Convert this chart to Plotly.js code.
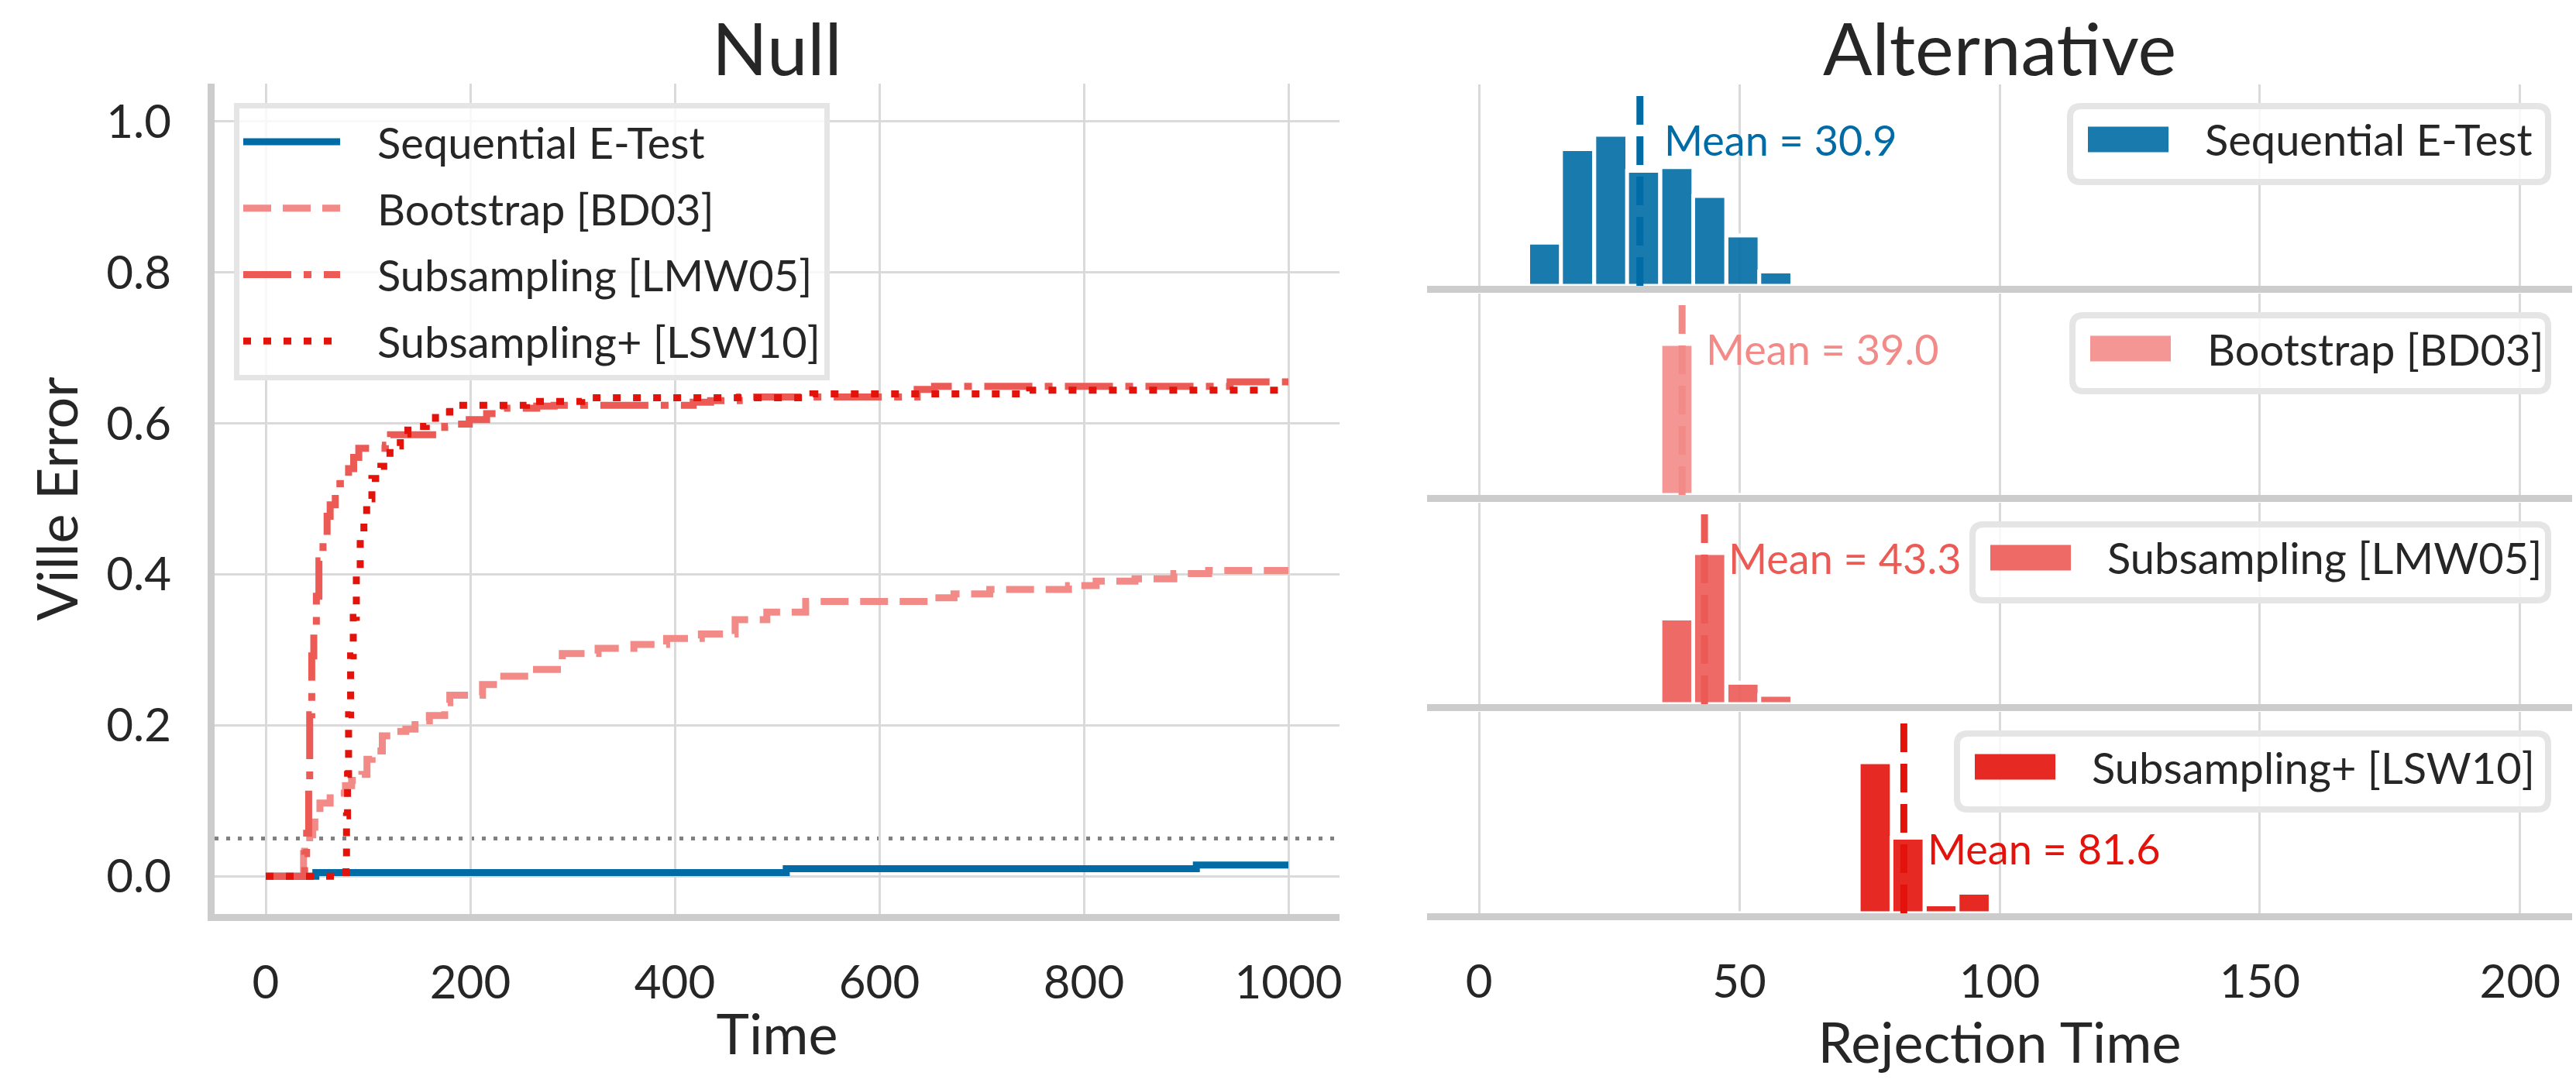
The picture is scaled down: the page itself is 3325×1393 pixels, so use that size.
<!DOCTYPE html>
<html><head><meta charset="utf-8">
<script src="https://cdn.plot.ly/plotly-3.0.1.min.js"></script>
<style>html,body{margin:0;padding:0;background:#fff}</style>
</head><body><div id="chart" style="width:3325px;height:1393px"></div>
<script>
// ================= DATA =================
const seriesNames = ['Sequential E-Test', 'Bootstrap [BD03]', 'Subsampling [LMW05]', 'Subsampling+ [LSW10]'];

// Null panel: Ville error vs time (step curves)
const seqTime = [0, 49, 509, 910, 1000];
const seqErr  = [0, 0.005, 0.010, 0.015, 0.015];

const bootTime = [0, 37, 38, 43, 46, 48, 53, 63, 71, 78, 84, 94, 99, 104, 114, 126, 137, 146, 160, 175, 180, 212, 227, 258, 290, 325, 360, 392, 426, 459, 490, 528, 650, 673, 708, 785, 812, 850, 888, 922, 1000];
const bootErr  = [0, 0.030, 0.045, 0.055, 0.065, 0.081, 0.097, 0.104, 0.110, 0.120, 0.127, 0.135, 0.155, 0.166, 0.186, 0.192, 0.195, 0.206, 0.213, 0.230, 0.240, 0.254, 0.265, 0.274, 0.295, 0.302, 0.307, 0.315, 0.321, 0.340, 0.350, 0.364, 0.369, 0.374, 0.380, 0.385, 0.391, 0.394, 0.401, 0.405, 0.405];

const subTime = [0, 38, 40, 42, 43, 45, 47, 49.5, 52, 56, 60, 63, 68, 73, 81, 86, 91, 117, 122, 175, 185, 199, 216, 233, 265, 282, 418, 435, 463, 637, 654, 943, 1000];
const subErr  = [0, 0.030, 0.057, 0.115, 0.214, 0.292, 0.331, 0.371, 0.418, 0.449, 0.477, 0.492, 0.520, 0.528, 0.540, 0.555, 0.567, 0.571, 0.585, 0.596, 0.599, 0.605, 0.613, 0.620, 0.623, 0.624, 0.628, 0.630, 0.635, 0.645, 0.649, 0.655, 0.655];

const plusTime = [0, 78.5, 79, 80, 81, 83, 85.6, 88.6, 92.4, 96, 98.7, 103.8, 112.6, 121.5, 131.6, 139, 157, 166, 180, 255, 309, 535, 747, 1000];
const plusErr  = [0, 0.025, 0.080, 0.135, 0.214, 0.292, 0.343, 0.398, 0.449, 0.477, 0.500, 0.527, 0.543, 0.570, 0.586, 0.596, 0.599, 0.615, 0.624, 0.629, 0.634, 0.639, 0.644, 0.644];

const alphaLevel = 0.05;

// Alternative panel: rejection-time histograms (shared bins, counts out of 200 runs)
const binCenters = [12.6, 18.9, 25.3, 31.6, 38.0, 44.3, 50.7, 57.0, 63.4, 69.7, 76.1, 82.4, 88.8, 95.1];
const binWidth = 6.35;
const seqCounts  = [12, 38, 42, 32, 33, 25, 14, 4, 0, 0, 0, 0, 0, 0];
const bootCounts = [0, 0, 0, 0, 200, 0, 0, 0, 0, 0, 0, 0, 0, 0];
const subCounts  = [0, 0, 0, 0, 64, 113, 16, 7, 0, 0, 0, 0, 0, 0];
const plusCounts = [0, 0, 0, 0, 0, 0, 0, 0, 0, 0, 118, 59, 7, 16];
const meanRejection = [30.9, 39.0, 43.3, 81.6];

// tick values
const timeTicks = [0, 200, 400, 600, 800, 1000];
const errTicks = [0, 0.2, 0.4, 0.6, 0.8, 1.0];
const rejTicks = [0, 50, 100, 150, 200];

// ================= STYLE / LAYOUT =================
const colors = ['#006ba4', '#f28b88', '#eb5a55', '#e3120b'];
const barColors = ['rgba(0,107,164,0.9)', 'rgba(242,139,136,0.9)', 'rgba(235,90,85,0.9)', 'rgba(227,18,11,0.9)'];
const dashes = ['solid', '36px,15px', '62px,16px,10px,16px', '10px,16px'];
const FONT = 'Lato, "Open Sans", sans-serif';
const TXT = '#262626';
const GRID = '#dadada';
const SPINE = '#cccccc';
const LEGEND_PAD = '\u00a0\u00a0\u00a0';

const FW = 3325, FH = 1393;
const PL = 277, PR = 3320, PT = 108, PB = 1180;
const PW = PR - PL, PH = PB - PT;
const fx = px => (px - PL) / PW;
const fy = py => (PB - py) / PH;

const rowsPx = [[109, 369], [379, 639], [649, 909], [919, 1179]];
const rightLeftPx = 1842;
const leftRightPx = 1729;

const allCounts = [seqCounts, bootCounts, subCounts, plusCounts];
const curves = [[seqTime, seqErr], [bootTime, bootErr], [subTime, subErr], [plusTime, plusErr]];

const data = [];
curves.forEach((c, i) => {
  data.push({
    type: 'scatter', mode: 'lines', x: c[0], y: c[1], name: LEGEND_PAD + seriesNames[i],
    legendgroup: 'g' + i,
    line: {shape: 'hv', color: colors[i], width: 9, dash: dashes[i]},
    xaxis: 'x', yaxis: 'y', hoverinfo: 'skip'
  });
});
allCounts.forEach((cnt, i) => {
  data.push({
    type: 'bar', x: binCenters, y: cnt, width: binWidth, showlegend: false,
    marker: {color: barColors[i], line: {color: '#ffffff', width: 5}},
    xaxis: 'x' + (i + 2), yaxis: 'y' + (i + 2), hoverinfo: 'skip'
  });
});

const layout = {
  width: FW, height: FH,
  margin: {l: PL, r: FW - PR, t: PT, b: FH - PB},
  paper_bgcolor: '#ffffff', plot_bgcolor: 'rgba(0,0,0,0)',
  font: {family: FONT, color: TXT, size: 60},
  showlegend: true,
  barmode: 'overlay',
  legend: {
    x: fx(302), y: fy(133), xanchor: 'left', yanchor: 'top',
    bgcolor: 'rgba(255,255,255,0.8)', bordercolor: '#e5e5e5', borderwidth: 7,
    font: {family: FONT, size: 56, color: TXT}, itemwidth: 125,
    traceorder: 'grouped', tracegroupgap: 10
  },
  xaxis: {
    domain: [0, fx(leftRightPx)], range: [-50, 1050], anchor: 'y',
    tickvals: timeTicks, ticks: '', showgrid: true, gridcolor: GRID, gridwidth: 3,
    showline: true, linecolor: SPINE, linewidth: 9, zeroline: false,
    tickfont: {size: 60, color: TXT}, ticklabelstandoff: 28,
    title: {text: 'Time', font: {size: 72, color: TXT}, standoff: 13}
  },
  yaxis: {
    domain: [0, 1], range: [-0.05, 1.05], anchor: 'x',
    tickvals: errTicks, tickformat: '.1f', ticks: '', showgrid: true, gridcolor: GRID, gridwidth: 3,
    showline: true, linecolor: SPINE, linewidth: 9, zeroline: false,
    tickfont: {size: 60, color: TXT}, ticklabelstandoff: 35,
    title: {text: 'Ville Error', font: {size: 72, color: TXT}, standoff: 17}
  },
  shapes: [], annotations: []
};

for (let i = 0; i < 4; i++) {
  const n = i + 2;
  const [top, bot] = rowsPx[i];
  layout['xaxis' + n] = {
    domain: [fx(rightLeftPx), 1], range: [-10, 210], anchor: 'y' + n,
    tickvals: rejTicks, ticks: '', showticklabels: i === 3,
    showgrid: true, gridcolor: GRID, gridwidth: 3,
    showline: true, linecolor: SPINE, linewidth: 9, zeroline: false,
    tickfont: {size: 60, color: TXT}, ticklabelstandoff: 28,
    title: i === 3 ? {text: 'Rejection Time', font: {size: 72, color: TXT}, standoff: 13} : {text: ''}
  };
  const maxC = Math.max(...allCounts[i]);
  layout['yaxis' + n] = {
    domain: [fy(bot), fy(top)], range: [0, maxC / 0.75], anchor: 'x' + n,
    showgrid: false, showticklabels: false, zeroline: false, showline: false, ticks: ''
  };
}

// alpha level reference line
layout.shapes.push({
  type: 'line', xref: 'paper', yref: 'y', x0: 0, x1: fx(leftRightPx), y0: alphaLevel, y1: alphaLevel,
  line: {color: '#808080', width: 5, dash: '5px,10px'}, layer: 'below'
});

// mean lines + labels
const meanLabelY = [0.725, 0.725, 0.725, 0.323];
meanRejection.forEach((m, i) => {
  const n = i + 2;
  const [top, bot] = rowsPx[i];
  layout.shapes.push({
    type: 'line', xref: 'x' + n, yref: 'paper', x0: m, x1: m, y0: fy(bot), y1: fy(top),
    line: {color: colors[i], width: 9, dash: '37px,15px'}, layer: 'above'
  });
  layout.annotations.push({
    xref: 'x' + n, yref: 'paper', x: m, y: fy(bot - meanLabelY[i] * (bot - top)), xshift: 29,
    xanchor: 'left', yanchor: 'middle', showarrow: false,
    text: 'Mean = ' + m.toFixed(1), font: {family: FONT, size: 54, color: colors[i]}
  });
});

// per-row legends (rounded boxes with patch + label)
function rrPath(x0, y0, x1, y1, r) {
  const a = fx(x0), b = fx(x1), c = fy(y0), d = fy(y1);
  const rx = r / PW, ry = r / PH;
  return `M${a + rx},${c} L${b - rx},${c} Q${b},${c} ${b},${c - ry} L${b},${d + ry} Q${b},${d} ${b - rx},${d} ` +
         `L${a + rx},${d} Q${a},${d} ${a},${d + ry} L${a},${c - ry} Q${a},${c} ${a + rx},${c} Z`;
}
const legLeft = [2668, 2671, 2542, 2522];
const legRight = 3293;
for (let i = 0; i < 4; i++) {
  const top = rowsPx[i][0] + 24;
  const h = 106;
  layout.shapes.push({
    type: 'path', xref: 'paper', yref: 'paper',
    path: rrPath(legLeft[i] + 4, top + 4, legRight - 4, top + h - 4, 14),
    fillcolor: 'rgba(255,255,255,0.8)', line: {color: '#e5e5e5', width: 8}, layer: 'above'
  });
  const cy = top + 47;
  layout.shapes.push({
    type: 'rect', xref: 'paper', yref: 'paper',
    x0: fx(legLeft[i] + 27), x1: fx(legLeft[i] + 131), y0: fy(cy + 16.5), y1: fy(cy - 16.5),
    fillcolor: barColors[i], line: {width: 0}, layer: 'above'
  });
  layout.annotations.push({
    xref: 'paper', yref: 'paper', x: fx(legLeft[i] + 176), y: fy(cy), xanchor: 'left', yanchor: 'middle',
    showarrow: false, text: seriesNames[i], font: {family: FONT, size: 56, color: TXT}
  });
}

// panel titles
[['Null', 1003], ['Alternative', 2581]].forEach(([t, cx]) => {
  layout.annotations.push({
    xref: 'paper', yref: 'paper', x: fx(cx), y: fy(2), xanchor: 'center', yanchor: 'top',
    showarrow: false, text: t, font: {family: FONT, size: 94, color: TXT}
  });
});

Plotly.newPlot('chart', data, layout, {displayModeBar: false, staticPlot: true});
</script></body></html>
